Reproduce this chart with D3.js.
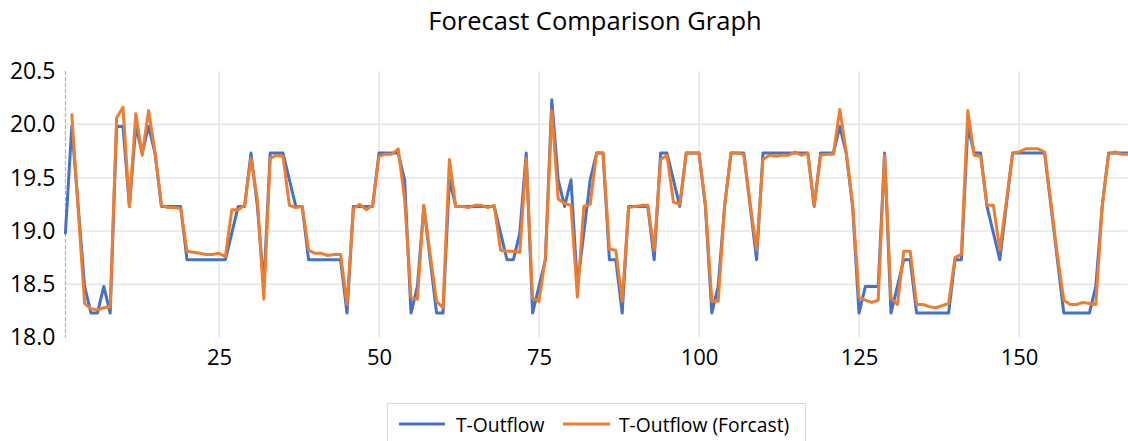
<!DOCTYPE html>
<html>
<head>
<meta charset="utf-8">
<script src="https://cdn.jsdelivr.net/npm/d3@7"></script>
<style>
  html, body { margin: 0; padding: 0; background: #ffffff; }
  svg { display: block; }
  text { font-family: "Open Sans", "Liberation Sans", sans-serif; fill: #000; }
</style>
</head>
<body>
<svg id="chart" width="1128" height="441"></svg>
<script>
// Observed outflow, one value per time step (1..167)
const outflow = [
  18.98, 19.98, 19.23, 18.48, 18.23, 18.23, 18.48, 18.23, 19.98, 19.98,
  19.23, 19.98, 19.73, 19.98, 19.73, 19.23, 19.23, 19.23, 19.23, 18.73,
  18.73, 18.73, 18.73, 18.73, 18.73, 18.73, 18.98, 19.23, 19.23, 19.73,
  19.23, 18.48, 19.73, 19.73, 19.73, 19.48, 19.23, 19.23, 18.73, 18.73,
  18.73, 18.73, 18.73, 18.73, 18.23, 19.23, 19.23, 19.23, 19.23, 19.73,
  19.73, 19.73, 19.73, 19.48, 18.23, 18.48, 19.23, 18.73, 18.23, 18.23,
  19.48, 19.23, 19.23, 19.23, 19.23, 19.23, 19.23, 19.23, 18.98, 18.73,
  18.73, 18.98, 19.73, 18.23, 18.48, 18.73, 20.23, 19.48, 19.23, 19.48,
  18.48, 18.98, 19.48, 19.73, 19.73, 18.73, 18.73, 18.23, 19.23, 19.23,
  19.23, 19.23, 18.73, 19.73, 19.73, 19.48, 19.23, 19.73, 19.73, 19.73,
  19.23, 18.23, 18.48, 19.23, 19.73, 19.73, 19.73, 19.23, 18.73, 19.73,
  19.73, 19.73, 19.73, 19.73, 19.73, 19.73, 19.73, 19.23, 19.73, 19.73,
  19.73, 19.98, 19.73, 19.23, 18.23, 18.48, 18.48, 18.48, 19.73, 18.23,
  18.48, 18.73, 18.73, 18.23, 18.23, 18.23, 18.23, 18.23, 18.23, 18.73,
  18.73, 19.98, 19.73, 19.73, 19.23, 18.98, 18.73, 19.23, 19.73, 19.73,
  19.73, 19.73, 19.73, 19.73, 19.23, 18.73, 18.23, 18.23, 18.23, 18.23,
  18.23, 18.48, 19.23, 19.73, 19.73, 19.73, 19.73
];

// Forecast outflow; no forecast exists for the first step
const forecast = [
  null, 20.09, 19.20, 18.32, 18.27, 18.26, 18.28, 18.29, 20.06, 20.16,
  19.23, 20.10, 19.71, 20.13, 19.74, 19.24, 19.22, 19.22, 19.21, 18.81,
  18.80, 18.79, 18.78, 18.78, 18.79, 18.76, 19.20, 19.20, 19.24, 19.68,
  19.29, 18.36, 19.68, 19.71, 19.70, 19.24, 19.22, 19.23, 18.82, 18.79,
  18.79, 18.77, 18.78, 18.78, 18.31, 19.21, 19.25, 19.20, 19.24, 19.70,
  19.72, 19.72, 19.77, 19.30, 18.38, 18.36, 19.24, 18.78, 18.34, 18.28,
  19.67, 19.23, 19.23, 19.22, 19.24, 19.24, 19.22, 19.24, 18.82, 18.81,
  18.81, 18.80, 19.68, 18.37, 18.34, 18.75, 20.13, 19.30, 19.26, 19.24,
  18.38, 19.23, 19.25, 19.73, 19.73, 18.83, 18.82, 18.34, 19.22, 19.23,
  19.24, 19.24, 18.82, 19.67, 19.71, 19.27, 19.25, 19.73, 19.73, 19.73,
  19.25, 18.34, 18.34, 19.24, 19.73, 19.73, 19.72, 19.25, 18.82, 19.67,
  19.71, 19.70, 19.71, 19.71, 19.74, 19.71, 19.73, 19.23, 19.71, 19.72,
  19.72, 20.14, 19.74, 19.26, 18.38, 18.35, 18.33, 18.35, 19.71, 18.37,
  18.31, 18.81, 18.81, 18.31, 18.31, 18.29, 18.28, 18.30, 18.32, 18.75,
  18.78, 20.13, 19.71, 19.70, 19.24, 19.24, 18.82, 19.27, 19.73, 19.74,
  19.77, 19.77, 19.77, 19.74, 19.26, 18.77, 18.35, 18.31, 18.31, 18.33,
  18.32, 18.31, 19.23, 19.72, 19.74, 19.72, 19.72
];

const seriesNames = ["T-Outflow", "T-Outflow (Forcast)"];
const yTicks = [18.0, 18.5, 19.0, 19.5, 20.0, 20.5];
const xTicks = [25, 50, 75, 100, 125, 150];

const colors = ["#4472C4", "#ED7D31"];
const svg = d3.select("#chart");

const plot = { left: 65.4, right: 1127.8, top: 71, bottom: 337.6 };

const x = d3.scaleLinear().domain([1, outflow.length]).range([plot.left, plot.right]);
const y = d3.scaleLinear().domain([18.0, 20.5]).range([plot.bottom, plot.top]);

// Title
svg.append("text")
  .attr("x", 595).attr("y", 30)
  .attr("text-anchor", "middle")
  .style("font-size", "25.5px")
  .text("Forecast Comparison Graph");

// Horizontal gridlines
svg.append("g")
  .selectAll("line")
  .data(yTicks.filter(v => v > 18.0 && v < 20.5))
  .join("line")
  .attr("x1", plot.left).attr("x2", plot.right)
  .attr("y1", d => y(d)).attr("y2", d => y(d))
  .attr("stroke", "#e6e6e6").attr("stroke-width", 1.5);

// Vertical gridlines
svg.append("g")
  .selectAll("line")
  .data(xTicks)
  .join("line")
  .attr("x1", d => x(d)).attr("x2", d => x(d))
  .attr("y1", plot.top).attr("y2", plot.bottom)
  .attr("stroke", "#e6e6e6").attr("stroke-width", 1.5);

// Dashed value axis line
svg.append("line")
  .attr("x1", plot.left).attr("x2", plot.left)
  .attr("y1", plot.top).attr("y2", plot.bottom)
  .attr("stroke", "#a6a6a6").attr("stroke-width", 1)
  .attr("stroke-dasharray", "4,2");

// Y axis labels
const yAxis = svg.append("g")
  .attr("transform", `translate(${plot.left - 10},0)`)
  .call(d3.axisLeft(y).tickValues(yTicks).tickFormat(d3.format(".1f")).tickSize(0).tickPadding(0));
yAxis.select(".domain").remove();
yAxis.selectAll("text").style("font-size", "23px").style("font-family", "'Open Sans', sans-serif").attr("fill", "#000");

// X axis labels
const xAxis = svg.append("g")
  .attr("transform", `translate(0,${plot.bottom})`)
  .call(d3.axisBottom(x).tickValues(xTicks).tickSize(0).tickPadding(12));
xAxis.select(".domain").remove();
xAxis.selectAll("text").style("font-size", "22px").style("font-family", "'Open Sans', sans-serif").attr("fill", "#000");

// Series lines
const line = d3.line()
  .defined(d => d != null)
  .x((d, i) => x(i + 1))
  .y(d => y(d));

[outflow, forecast].forEach((vals, k) => {
  svg.append("path")
    .datum(vals)
    .attr("fill", "none")
    .attr("stroke", colors[k])
    .attr("stroke-width", 3)
    .attr("stroke-linejoin", "round")
    .attr("stroke-linecap", "round")
    .attr("d", line);
});

// Legend
const legend = svg.append("g");
legend.append("rect")
  .attr("x", 387.5).attr("y", 403.5)
  .attr("width", 418).attr("height", 44)
  .attr("fill", "#fff").attr("stroke", "#d9d9d9").attr("stroke-width", 1);
const legendItems = [
  { x1: 399, x2: 445, tx: 456 },
  { x1: 563, x2: 610, tx: 619 }
];
legendItems.forEach((it, k) => {
  legend.append("line")
    .attr("x1", it.x1).attr("x2", it.x2)
    .attr("y1", 424).attr("y2", 424)
    .attr("stroke", colors[k]).attr("stroke-width", 3);
  legend.append("text")
    .attr("x", it.tx).attr("y", 424)
    .attr("dominant-baseline", "central")
    .style("font-size", "19.3px")
    .text(seriesNames[k]);
});
</script>
</body>
</html>
